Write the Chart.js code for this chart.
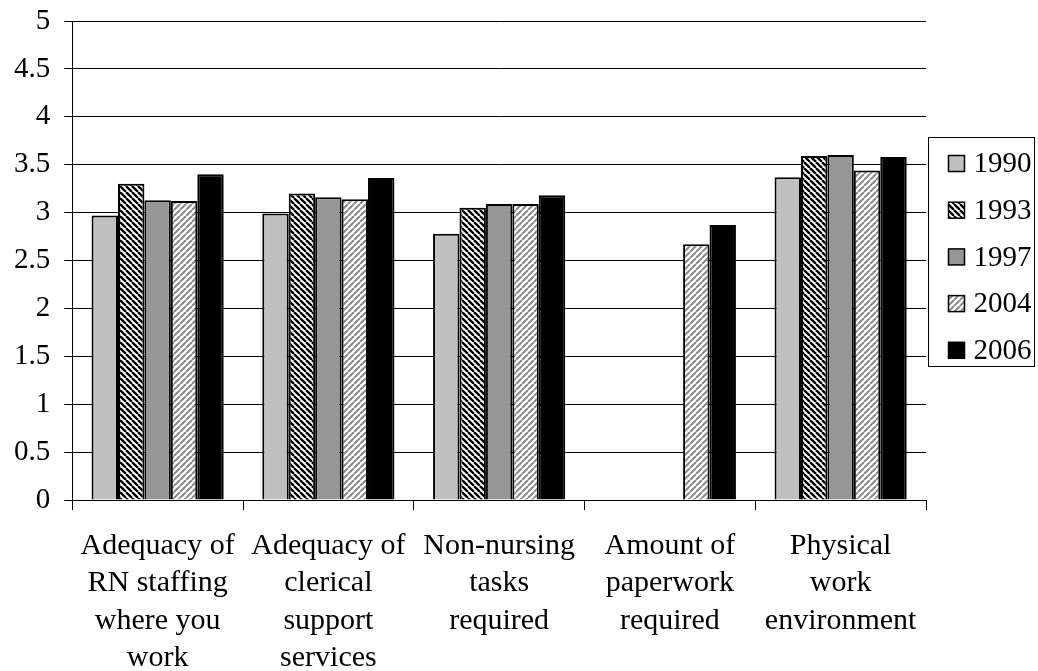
<!DOCTYPE html>
<html>
<head>
<meta charset="utf-8">
<script src="https://cdn.jsdelivr.net/npm/chart.js@4"></script>
<style>
  html, body { margin: 0; padding: 0; background: #fff; }
  #wrap { width: 1038px; height: 671px; }
</style>
</head>
<body>
<div id="wrap"><canvas id="survey-chart"></canvas></div>
<script>
// 項目（複数行ラベル）
const categories = [
    ['Adequacy of', 'RN staffing', 'where you', 'work'],
    ['Adequacy of', 'clerical', 'support', 'services'],
    ['Non-nursing', 'tasks', 'required'],
    ['Amount of', 'paperwork', 'required'],
    ['Physical', 'work', 'environment']
];
const years = ['1990', '1993', '1997', '2004', '2006'];

// 年ごとの平均値
const v1990 = [2.97, 2.99, 2.78, null, 3.37];
const v1993 = [3.30, 3.20, 3.05, null, 3.59];
const v1997 = [3.13, 3.16, 3.09, null, 3.60];
const v2004 = [3.12, 3.14, 3.09, 2.67, 3.44];
const v2006 = [3.40, 3.36, 3.18, 2.87, 3.58];

const yTicks = [0, 0.5, 1, 1.5, 2, 2.5, 3, 3.5, 4, 4.5, 5];

const serif = "'Liberation Serif', 'Times New Roman', serif";

// 斜線パターン
function stripes(bg, fg, dir, lw) {
    const c = document.createElement('canvas');
    c.width = 6; c.height = 6;
    const g = c.getContext('2d');
    g.fillStyle = bg;
    g.fillRect(0, 0, 6, 6);
    g.strokeStyle = fg;
    g.lineWidth = lw;
    g.beginPath();
    for (let k = -1; k <= 1; k++) {
        if (dir === '\\') { g.moveTo(k * 6, 0); g.lineTo(k * 6 + 6, 6); }
        else { g.moveTo(k * 6, 6); g.lineTo(k * 6 + 6, 0); }
    }
    g.stroke();
    return g.createPattern(c, 'repeat');
}

const fills = [
    '#c0c0c0',
    stripes('#fff', '#000', '\\', 2.3),
    '#969696',
    stripes('#fff', '#8a8a8a', '/', 2),
    '#000'
];
const series = [v1990, v1993, v1997, v2004, v2006];

// 枠付きの凡例を右側に描く
const boxLegend = {
    id: 'boxLegend',
    afterDraw(chart) {
        const ctx = chart.ctx;
        const x = chart.chartArea.right + 2.5;
        const y = 137.5;
        ctx.save();
        ctx.strokeStyle = '#000';
        ctx.lineWidth = 1;
        ctx.strokeRect(x, y, 106, 229);
        ctx.font = '29px ' + serif;
        ctx.textBaseline = 'middle';
        chart.data.datasets.forEach((ds, i) => {
            const cy = y + 26 + i * 46.7;
            ctx.fillStyle = ds.backgroundColor;
            ctx.fillRect(x + 20, cy - 8, 16, 16);
            ctx.lineWidth = 1.5;
            ctx.strokeRect(x + 20, cy - 8, 16, 16);
            ctx.fillStyle = '#000';
            ctx.fillText(ds.label, x + 45, cy + 1);
        });
        ctx.restore();
    }
};

const ctx = document.getElementById('survey-chart').getContext('2d');
new Chart(ctx, {
    type: 'bar',
    data: {
        labels: categories,
        datasets: years.map((y, i) => ({
            label: y,
            data: series[i],
            backgroundColor: fills[i],
            borderColor: '#000',
            borderWidth: 2,
            categoryPercentage: 0.774,
            barPercentage: 1
        }))
    },
    options: {
        responsive: true,
        maintainAspectRatio: false,
        animation: false,
        layout: { padding: { left: 0, right: 112, top: 21, bottom: 0 } },
        scales: {
            x: {
                afterFit: (axis) => { axis.height = 171; },
                grid: {
                    display: true,
                    drawOnChartArea: false,
                    drawTicks: true,
                    tickLength: 10,
                    color: '#000'
                },
                border: { display: true, color: '#000', width: 1 },
                ticks: {
                    color: '#000',
                    font: { family: serif, size: 30, lineHeight: 1.25 },
                    padding: 17,
                    maxRotation: 0,
                    autoSkip: false
                }
            },
            y: {
                min: 0,
                max: 5,
                afterBuildTicks: (axis) => { axis.ticks = yTicks.map(v => ({ value: v })); },
                afterFit: (axis) => { axis.paddingTop = 0; axis.paddingBottom = 0; },
                grid: { color: '#000', tickLength: 8 },
                border: { display: true, color: '#000', width: 1 },
                ticks: {
                    color: '#000',
                    font: { family: serif, size: 29 },
                    padding: 14,
                    callback: (v) => String(v)
                }
            }
        },
        plugins: {
            legend: { display: false },
            tooltip: { enabled: false }
        }
    },
    plugins: [boxLegend]
});
</script>
</body>
</html>
